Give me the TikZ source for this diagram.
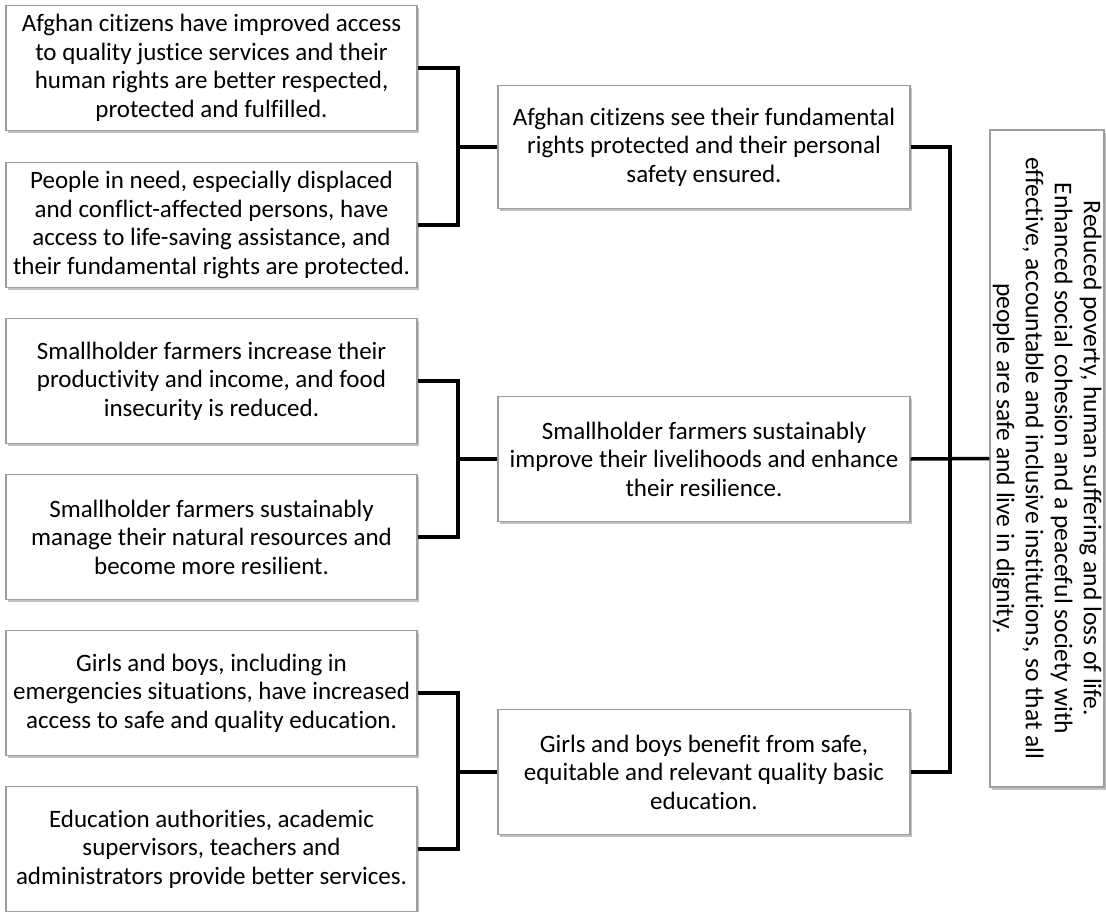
\documentclass[tikz,border=0pt]{standalone}
\usepackage{fontspec}
\setmainfont[Ligatures={NoCommon}]{Carlito}
\usepackage{tikz}
\usetikzlibrary{shadows}
\tikzstyle{result}=[draw=black!38,line width=1.2pt,fill=white,align=center,
  minimum width=411pt,minimum height=125pt,inner sep=1pt,
  font=\fontsize{25}{28.5}\selectfont,
  drop shadow={shadow xshift=2pt,shadow yshift=-2.5pt,fill=black!35,opacity=.7}]
\tikzstyle{edge} = [draw,line width=3.5pt,-]

\begin{document}
\begin{tikzpicture}[x=1pt,y=-1pt]
      \useasboundingbox (0,0) rectangle (1106,911);
      \node[result] (l1) at (211.5,68) {Afghan citizens have improved access\\to quality justice services and their\\human rights are better respected,\\protected and fulfilled.};
      \node[result] (l2) at (211.5,225) {People in need, especially displaced\\and conflict-affected persons, have\\access to life-saving assistance, and\\their fundamental rights are protected.};
      \node[result] (l3) at (211.5,381) {Smallholder farmers increase their\\productivity and income, and food\\insecurity is reduced.};
      \node[result] (l4) at (211.5,537) {Smallholder farmers sustainably\\manage their natural resources and\\become more resilient.};
      \node[result] (l5) at (211.5,693) {Girls and boys, including in\\emergencies situations, have increased\\access to safe and quality education.};
      \node[result] (l6) at (211.5,849) {Education authorities, academic\\supervisors, teachers and\\administrators provide better services.};
      \node[result,minimum width=412pt,minimum height=123pt] (m1) at (704,147) {Afghan citizens see their fundamental\\rights protected and their personal\\safety ensured.};
      \node[result,minimum width=412pt] (m2) at (704,459) {Smallholder farmers sustainably\\improve their livelihoods and enhance\\their resilience.};
      \node[result,minimum width=412pt] (m3) at (704,772) {Girls and boys benefit from safe,\\equitable and relevant quality basic\\education.};
      \node[result,rotate=-90,minimum width=657pt,minimum height=114pt,inner sep=0pt,
        font=\fontsize{25.5}{29}\selectfont] (goal) at (1047,458.5) {Reduced poverty, human suffering and loss of life.\\Enhanced social cohesion and a peaceful society with\\effective, accountable and inclusive institutions, so that all\\people are safe and live in dignity.};
      \coordinate (j1) at (458,147);
      \coordinate (j2) at (458,459);
      \coordinate (j3) at (458,772);
      \coordinate (jg) at (950,459);
      \draw[edge] (l1.east) -| (j1);
      \draw[edge] (l2.east) -| (j1);
      \draw[edge] (j1) -- (m1.west);
      \draw[edge] (l3.east) -| (j2);
      \draw[edge] (l4.east) -| (j2);
      \draw[edge] (j2) -- (m2.west);
      \draw[edge] (l5.east) -| (j3);
      \draw[edge] (l6.east) -| (j3);
      \draw[edge] (j3) -- (m3.west);
      \draw[edge] (m1.east) -| (jg);
      \draw[edge] (m3.east) -| (jg);
      \draw[edge] (m2.east) -- (goal.south);
    \end{tikzpicture}
\end{document}
